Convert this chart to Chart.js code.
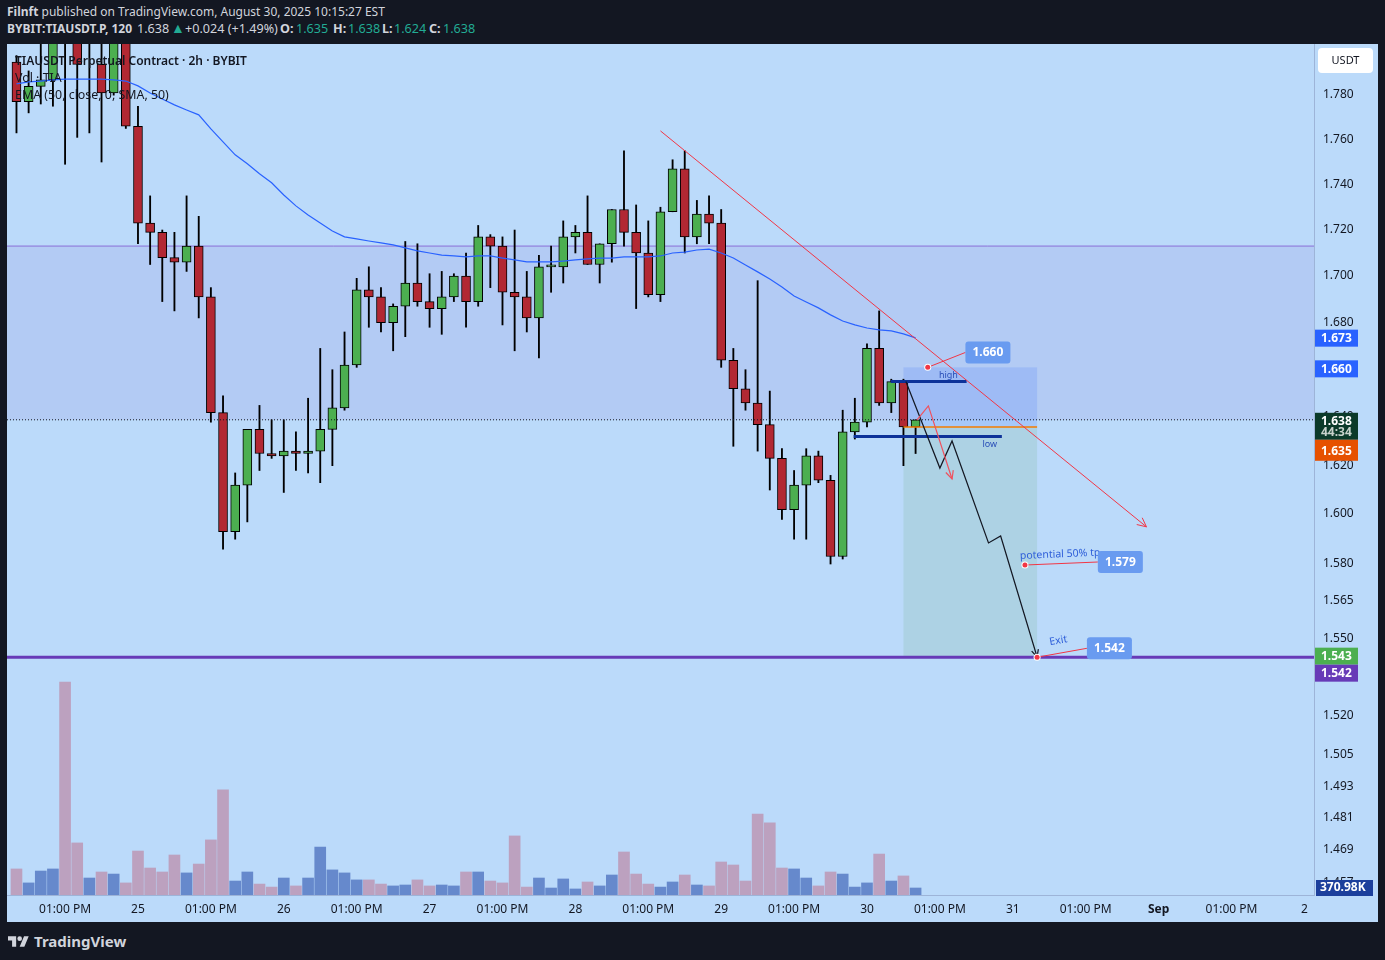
<!DOCTYPE html>
<html>
<head>
<meta charset="utf-8">
<script src="https://cdn.jsdelivr.net/npm/chart.js@4.4.1/dist/chart.umd.min.js"></script>
<style>
  html, body { margin: 0; padding: 0; background: #131722; width: 1385px; height: 960px; overflow: hidden; font-family: "Noto Sans", sans-serif; }
  #h1 { position: absolute; left: 7px; top: 3px; color: #d1d4dc; font-size: 12px; line-height: 18px; white-space: nowrap; }
  #h2 { position: absolute; left: 0; top: 20px; height: 18px; width: 600px; color: #d1d4dc; font-size: 12.6px; line-height: 18px; white-space: nowrap; }
  #h2 span { position: absolute; top: 0; }
  .up { color: #22ab94; }
  #pane { position: absolute; left: 7px; top: 44px; width: 1371px; height: 878px; background: #bbdafa; }
  #pane canvas { position: absolute; left: 0; top: 0; }
  #legend { position: absolute; left: 8px; top: 8px; color: #131722; font-size: 12.4px; line-height: 17px; pointer-events: none; white-space: nowrap; }
  #legend .t { font-weight: 600; font-size: 12px; }
  #footer { position: absolute; left: 8px; top: 931px; color: #d1d4dc; font-size: 15px; font-weight: bold; display: flex; align-items: center; gap: 5px; }
</style>
</head>
<body>
<div id="h1"><b>Filnft</b> published on TradingView.com, August 30, 2025 10:15:27 EST</div>
<div id="h2">
  <span style="left:7px;font-weight:bold;font-size:12px">BYBIT:TIAUSDT.P, 120</span>
  <span style="left:137px">1.638</span>
  <span class="up" style="left:171px;font-size:14px;top:-1px">▲</span>
  <span style="left:185px">+0.024 (+1.49%)</span>
  <span style="left:280px;font-weight:bold">O:</span><span class="up" style="left:296px">1.635</span>
  <span style="left:333px;font-weight:bold">H:</span><span class="up" style="left:348px">1.638</span>
  <span style="left:382px;font-weight:bold">L:</span><span class="up" style="left:394px">1.624</span>
  <span style="left:429px;font-weight:bold">C:</span><span class="up" style="left:443px">1.638</span>
</div>
<div id="pane">
  <canvas id="chart" width="1371" height="878"></canvas>
  <div id="legend">
    <div class="t">TIAUSDT Perpetual Contract · 2h · BYBIT</div>
    <div>Vol · TIA</div>
    <div>EMA (50, close, 0, SMA, 50)</div>
  </div>
</div>
<div id="footer">
  <svg width="21" height="14" viewBox="0 0 36 24"><path d="M14 22H7V11H0V4h14v18zM28 22h-8l7.5-18h8L28 22z" fill="#d1d4dc"/><circle cx="20" cy="8" r="4" fill="#d1d4dc"/></svg>
  <span>TradingView</span>
</div>
<script>
// ——— TIAUSDT.P 2h candles, bar index 0 = Aug 25 01:00 ———
const FIRST_BAR = -10;

const OPENS = [
  1.794, 1.776, 1.783, 1.786, 1.830, 1.825, 1.806, 1.793, 1.780, 1.820,
  1.765, 1.722, 1.718, 1.707, 1.705, 1.712, 1.690, 1.641, 1.592, 1.611,
  1.634, 1.624, 1.623, 1.625, 1.624, 1.625, 1.634, 1.643, 1.661, 1.693,
  1.690, 1.679, 1.686, 1.696, 1.688, 1.685, 1.690, 1.699, 1.688, 1.716,
  1.712, 1.692, 1.690, 1.681, 1.703, 1.703, 1.716, 1.718, 1.704, 1.713,
  1.728, 1.718, 1.709, 1.691, 1.727, 1.746, 1.716, 1.726, 1.722, 1.663,
  1.651, 1.645, 1.636, 1.622, 1.601, 1.611, 1.623, 1.613, 1.582, 1.633,
  1.637, 1.668, 1.645, 1.654, 1.635
];
const HIGHS = [
  1.797, 1.790, 1.815, 1.820, 1.835, 1.830, 1.825, 1.812, 1.818, 1.825,
  1.774, 1.734, 1.719, 1.718, 1.734, 1.725, 1.694, 1.648, 1.616, 1.634,
  1.644, 1.638, 1.638, 1.633, 1.647, 1.668, 1.659, 1.675, 1.698, 1.703,
  1.694, 1.687, 1.714, 1.713, 1.700, 1.701, 1.700, 1.709, 1.721, 1.717,
  1.716, 1.719, 1.701, 1.708, 1.712, 1.723, 1.721, 1.734, 1.713, 1.728,
  1.754, 1.730, 1.723, 1.729, 1.750, 1.754, 1.732, 1.734, 1.728, 1.668,
  1.659, 1.697, 1.650, 1.626, 1.617, 1.626, 1.625, 1.615, 1.642, 1.647,
  1.670, 1.684, 1.655, 1.655, 1.638
];
const LOWS = [
  1.762, 1.771, 1.775, 1.774, 1.748, 1.760, 1.762, 1.749, 1.779, 1.764,
  1.713, 1.704, 1.688, 1.684, 1.701, 1.681, 1.637, 1.585, 1.589, 1.596,
  1.617, 1.622, 1.608, 1.617, 1.616, 1.612, 1.619, 1.642, 1.660, 1.677,
  1.675, 1.667, 1.673, 1.686, 1.677, 1.674, 1.688, 1.677, 1.686, 1.694,
  1.678, 1.667, 1.675, 1.664, 1.692, 1.696, 1.709, 1.704, 1.696, 1.705,
  1.712, 1.685, 1.690, 1.688, 1.727, 1.709, 1.713, 1.713, 1.660, 1.627,
  1.642, 1.625, 1.609, 1.597, 1.589, 1.589, 1.612, 1.579, 1.581, 1.630,
  1.635, 1.644, 1.641, 1.619, 1.624
];
const CLOSES = [
  1.776, 1.783, 1.786, 1.810, 1.808, 1.793, 1.815, 1.780, 1.812, 1.765,
  1.722, 1.718, 1.707, 1.705, 1.712, 1.690, 1.641, 1.592, 1.611, 1.634,
  1.624, 1.623, 1.625, 1.624, 1.625, 1.634, 1.643, 1.661, 1.693, 1.690,
  1.679, 1.686, 1.696, 1.688, 1.685, 1.690, 1.699, 1.688, 1.716, 1.712,
  1.692, 1.690, 1.681, 1.703, 1.703, 1.716, 1.718, 1.704, 1.713, 1.728,
  1.718, 1.709, 1.691, 1.727, 1.746, 1.716, 1.726, 1.722, 1.663, 1.651,
  1.645, 1.636, 1.622, 1.601, 1.611, 1.623, 1.613, 1.582, 1.633, 1.637,
  1.668, 1.645, 1.654, 1.635, 1.638
];
// volume in thousands of TIA
const VOLUMES = [
  1380, 640, 1270, 1380, 11290, 2760, 900, 1220, 1110, 640,
  2330, 1430, 1220, 2120, 1170, 1640, 2920, 5570, 740, 1220,
  580, 420, 900, 480, 900, 2540, 1330, 1170, 800, 800,
  580, 480, 530, 800, 480, 530, 480, 1220, 1220, 740,
  640, 3130, 420, 900, 370, 850, 320, 690, 480, 1060,
  2280, 1110, 580, 420, 690, 1060, 530, 480, 1750, 1590,
  740, 4290, 3820, 1430, 1380, 900, 480, 1220, 1110, 420,
  640, 2170, 740, 1010, 370.98
];
const EMA_50 = [
  1.7841, 1.7850, 1.7854, 1.7859, 1.7863, 1.7863, 1.7863, 1.7863, 1.7859, 1.7854,
  1.7832, 1.7800, 1.7773, 1.7746, 1.7723, 1.7701, 1.7638, 1.7580, 1.7522, 1.7482,
  1.7438, 1.7398, 1.7344, 1.7296, 1.7256, 1.7221, 1.7186, 1.7160, 1.7151, 1.7142,
  1.7134, 1.7125, 1.7112, 1.7099, 1.7090, 1.7081, 1.7077, 1.7073, 1.7077, 1.7077,
  1.7068, 1.7060, 1.7051, 1.7051, 1.7051, 1.7055, 1.7060, 1.7064, 1.7068, 1.7068,
  1.7073, 1.7073, 1.7073, 1.7077, 1.7090, 1.7094, 1.7103, 1.7107, 1.7090, 1.7068,
  1.7038, 1.7008, 1.6977, 1.6943, 1.6904, 1.6878, 1.6853, 1.6823, 1.6797, 1.6780,
  1.6767, 1.6759, 1.6755, 1.6742, 1.6725
];

const X_TICK_POS = [-6, 0, 6, 12, 18, 24, 30, 36, 42, 48, 54, 60, 66, 72, 78, 84, 90, 96];
const X_TICK_LABELS = ["01:00 PM", "25", "01:00 PM", "26", "01:00 PM", "27", "01:00 PM", "28", "01:00 PM",
  "29", "01:00 PM", "30", "01:00 PM", "31", "01:00 PM", "Sep", "01:00 PM", "2"];
const Y_TICKS = [1.457, 1.469, 1.481, 1.493, 1.505, 1.520, 1.550, 1.565, 1.580, 1.600,
  1.620, 1.640, 1.680, 1.700, 1.720, 1.740, 1.760, 1.780];

const X_MIN = -10.78, X_MAX = 96.79;
const PRICE_MIN = 1.4515, PRICE_MAX = 1.8023;
const VOL_MAX = 45100;

// ——— drawings, in (bar index, price) ———
const ZONE = [1.712, 1.638];
const RESIST_LINE = 1.712;
const LAST_PRICE = 1.638;
const EXIT_LINE = 1.542;
const TREND_LINE = [[43, 1.7629], [83, 1.594]];
const SHORT_POS = { from: 63, to: 74, stop: 1.660, entry: 1.635, target: 1.542 };
const HIGH_LINE = [[61.95, 1.654], [68.2, 1.654]];
const LOW_LINE = [[58.9, 1.631], [71.1, 1.631]];
const PATH_BLACK = [[63.2, 1.654], [66, 1.618], [67, 1.6292], [70, 1.5875], [71, 1.5903], [74, 1.5421]];
const PATH_RED = [[64.1, 1.6379], [65.05, 1.6438], [67, 1.6135]];
const CALLOUTS = [
  { at: [65, 1.660], to: [68.1, 1.6663], text: "1.660" },
  { at: [73, 1.5786], to: [79, 1.5798], text: "1.579", note: "potential 50% tp", dx: -5, dy: -6 },
  { at: [74, 1.542], to: [78.1, 1.5455], text: "1.542", note: "Exit", dx: 13, dy: -12 }
];
const AXIS_TAGS = [
  { price: 1.673, text: "1.673", bg: "#2962ff" },
  { price: 1.660, text: "1.660", bg: "#2962ff" },
  { price: 1.638, text: "1.638", sub: "44:34", bg: "#0b3a2a" },
  { price: 1.635, text: "1.635", bg: "#e65100", tall: true },
  { price: 1.543, text: "1.543", bg: "#4caf50" },
  { price: 1.542, text: "1.542", bg: "#673ab7" }
];

const FONT = '"Noto Sans", sans-serif';
const UP = "#4caf50", DOWN = "#b22833";

const bars = OPENS.map((o, i) => FIRST_BAR + i);
const bodies = bars.map((x, i) => ({ x, y: [OPENS[i], CLOSES[i]] }));
const wicks = bars.map((x, i) => ({ x, y: [LOWS[i], HIGHS[i]] }));
const vols = bars.map((x, i) => ({ x, y: VOLUMES[i] }));
const ema = bars.map((x, i) => ({ x, y: EMA_50[i] }));
const isUp = OPENS.map((o, i) => CLOSES[i] >= o);

function px(chart, p) {
  return [chart.scales.x.getPixelForValue(p[0]), chart.scales.y.getPixelForValue(p[1])];
}
function polyline(ctx, pts) {
  ctx.beginPath();
  pts.forEach((p, i) => (i ? ctx.lineTo(p[0], p[1]) : ctx.moveTo(p[0], p[1])));
  ctx.stroke();
}
function arrowHead(ctx, from, to, len) {
  const a = Math.atan2(to[1] - from[1], to[0] - from[0]);
  ctx.beginPath();
  ctx.moveTo(to[0] - len * Math.cos(a - 0.45), to[1] - len * Math.sin(a - 0.45));
  ctx.lineTo(to[0], to[1]);
  ctx.lineTo(to[0] - len * Math.cos(a + 0.45), to[1] - len * Math.sin(a + 0.45));
  ctx.stroke();
}
function hLine(ctx, chart, price) {
  const yy = chart.scales.y.getPixelForValue(price);
  ctx.beginPath();
  ctx.moveTo(chart.chartArea.left, yy);
  ctx.lineTo(chart.chartArea.right, yy);
  ctx.stroke();
}

const drawings = {
  id: "drawings",
  beforeDatasetsDraw(chart) {
    const { ctx, chartArea: a, scales: { x, y } } = chart;
    ctx.save();
    ctx.beginPath(); ctx.rect(a.left, a.top, a.width, a.height); ctx.clip();
    const zt = y.getPixelForValue(ZONE[0]), zb = y.getPixelForValue(ZONE[1]);
    ctx.fillStyle = "#b3cbf4";
    ctx.fillRect(a.left, zt, a.width, zb - zt);
    ctx.strokeStyle = "#8b6fd8"; ctx.lineWidth = 1;
    hLine(ctx, chart, RESIST_LINE);
    // short position tool
    const x0 = x.getPixelForValue(SHORT_POS.from), x1 = x.getPixelForValue(SHORT_POS.to);
    const ys = y.getPixelForValue(SHORT_POS.stop), ye = y.getPixelForValue(SHORT_POS.entry), yt = y.getPixelForValue(SHORT_POS.target);
    ctx.fillStyle = "rgba(41, 98, 255, 0.15)";
    ctx.fillRect(x0, ys, x1 - x0, ye - ys);
    ctx.fillStyle = "#add2e4";
    ctx.fillRect(x0, ye, x1 - x0, yt - ye);
    ctx.restore();
  },
  afterDatasetsDraw(chart) {
    const { ctx, chartArea: a, scales: { x, y } } = chart;
    ctx.save();
    ctx.beginPath(); ctx.rect(a.left, a.top, a.width, a.height); ctx.clip();

    ctx.strokeStyle = "#131722"; ctx.lineWidth = 1; ctx.setLineDash([1, 2]);
    hLine(ctx, chart, LAST_PRICE);
    ctx.setLineDash([]);

    ctx.strokeStyle = "#673ab7"; ctx.lineWidth = 3;
    hLine(ctx, chart, EXIT_LINE);

    // entry line of the short position
    const x0 = x.getPixelForValue(SHORT_POS.from), x1 = x.getPixelForValue(SHORT_POS.to);
    ctx.strokeStyle = "#f57c00"; ctx.lineWidth = 1.5;
    polyline(ctx, [[x0, y.getPixelForValue(SHORT_POS.entry)], [x1, y.getPixelForValue(SHORT_POS.entry)]]);

    // high / low marks
    ctx.strokeStyle = "#0d3299"; ctx.lineWidth = 3;
    polyline(ctx, HIGH_LINE.map(p => px(chart, p)));
    polyline(ctx, LOW_LINE.map(p => px(chart, p)));
    ctx.fillStyle = "#2a4fb8"; ctx.font = "9px " + FONT; ctx.textAlign = "center";
    ctx.textBaseline = "bottom";
    const hp = px(chart, [66.7, HIGH_LINE[0][1]]);
    ctx.fillText("high", hp[0], hp[1] - 2);
    ctx.textBaseline = "top";
    const lp = px(chart, [70.1, LOW_LINE[0][1]]);
    ctx.fillText("low", lp[0], lp[1] + 3);

    // trend line
    ctx.strokeStyle = "#f23645"; ctx.lineWidth = 1;
    const t = TREND_LINE.map(p => px(chart, p));
    polyline(ctx, t);
    arrowHead(ctx, t[0], t[1], 10);

    // projected paths
    ctx.strokeStyle = "#131722"; ctx.lineWidth = 1.2;
    const pb = PATH_BLACK.map(p => px(chart, p));
    polyline(ctx, pb);
    arrowHead(ctx, pb[pb.length - 2], pb[pb.length - 1], 8);
    ctx.strokeStyle = "#f0515e"; ctx.lineWidth = 1.2;
    const pr = PATH_RED.map(p => px(chart, p));
    polyline(ctx, pr);
    arrowHead(ctx, pr[pr.length - 2], pr[pr.length - 1], 9);

    // callouts
    CALLOUTS.forEach(c => {
      const p = px(chart, c.at), q = px(chart, c.to);
      ctx.strokeStyle = "#f23645"; ctx.lineWidth = 1;
      polyline(ctx, [p, q]);
      if (c.note) {
        ctx.save();
        ctx.translate(p[0] + c.dx, p[1] + c.dy);
        ctx.rotate(Math.atan2(q[1] - p[1], q[0] - p[0]));
        ctx.fillStyle = "#2f5fd9"; ctx.font = "10.5px " + FONT;
        ctx.textAlign = "left"; ctx.textBaseline = "alphabetic";
        ctx.fillText(c.note, 0, 0);
        ctx.restore();
      }
      ctx.fillStyle = "#699bf0";
      ctx.beginPath(); ctx.roundRect(q[0], q[1] - 11, 45, 22, 3); ctx.fill();
      ctx.fillStyle = "#ffffff"; ctx.font = "bold 12px " + FONT;
      ctx.textAlign = "center"; ctx.textBaseline = "middle";
      ctx.fillText(c.text, q[0] + 22.5, q[1] + 0.5);
      ctx.fillStyle = "#ffffff";
      ctx.beginPath(); ctx.arc(p[0], p[1], 3.5, 0, Math.PI * 2); ctx.fill();
      ctx.fillStyle = "#f23645";
      ctx.beginPath(); ctx.arc(p[0], p[1], 2.5, 0, Math.PI * 2); ctx.fill();
    });
    ctx.restore();
  },
  afterDraw(chart) {
    const { ctx, chartArea: a, scales: { y, yv } } = chart;
    ctx.save();
    // price tags on the right scale, pushed down when they overlap
    let prevBottom = -Infinity;
    AXIS_TAGS.forEach(tag => {
      const cy = y.getPixelForValue(tag.price);
      const h = tag.sub ? 27 : tag.tall ? 21 : 17;
      const top = Math.max(cy - 7, prevBottom);
      prevBottom = top + h;
      ctx.fillStyle = tag.bg;
      ctx.fillRect(a.right + 1, top, 43, h);
      ctx.fillStyle = "#ffffff"; ctx.font = "bold 12px " + FONT;
      ctx.textAlign = "left"; ctx.textBaseline = "middle";
      ctx.fillText(tag.text, a.right + 7, top + (tag.tall ? 12 : 9));
      if (tag.sub) {
        ctx.fillStyle = "#c8d2cc";
        ctx.fillText(tag.sub, a.right + 7, top + 20);
      }
    });
    const vy = yv.getPixelForValue(VOLUMES[VOLUMES.length - 1]);
    ctx.fillStyle = "#1c3f9c";
    ctx.fillRect(a.right + 2, vy - 8, 57, 16);
    ctx.fillStyle = "#ffffff"; ctx.font = "bold 12px " + FONT;
    ctx.fillText("370.98K", a.right + 6, vy);
    // currency box
    ctx.fillStyle = "#ffffff";
    ctx.beginPath(); ctx.roundRect(a.right + 4, a.top + 4, 55, 25, 4); ctx.fill();
    ctx.fillStyle = "#131722"; ctx.font = "11px " + FONT; ctx.textAlign = "center";
    ctx.fillText("USDT", a.right + 31.5, a.top + 17);
    ctx.restore();
  }
};

new Chart(document.getElementById("chart"), {
  type: "bar",
  data: {
    datasets: [
      { type: "line", label: "EMA 50", data: ema, yAxisID: "y", borderColor: "#2962ff", borderWidth: 1.2,
        pointRadius: 0, tension: 0, order: 0 },
      { label: "Bodies", data: bodies, yAxisID: "y", backgroundColor: isUp.map(u => (u ? UP : DOWN)),
        borderColor: "#000000", borderWidth: 1, borderSkipped: false, barThickness: 9, minBarLength: 2,
        grouped: false, order: 1 },
      { label: "Wicks", data: wicks, yAxisID: "y", backgroundColor: "#000000", barThickness: 1.2,
        grouped: false, order: 2 },
      { label: "Volume", data: vols, yAxisID: "yv", backgroundColor: isUp.map(u => (u ? "#6689cc" : "#bca1bf")),
        barThickness: 11, grouped: false, order: 3 }
    ]
  },
  options: {
    responsive: false,
    animation: false,
    layout: { padding: 0 },
    plugins: { legend: { display: false }, tooltip: { enabled: false } },
    scales: {
      x: {
        type: "linear", min: X_MIN, max: X_MAX, bounds: "data", offset: false,
        grid: { display: false, drawTicks: false },
        border: { display: true, color: "#9db4d8" },
        afterBuildTicks: s => { s.ticks = X_TICK_POS.map(v => ({ value: v })); },
        afterFit: s => { s.height = 27; s.paddingLeft = 0; s.paddingRight = 0; },
        ticks: {
          autoSkip: false, maxRotation: 0, padding: 7, color: "#131722",
          font: c => ({ family: FONT, size: 12, weight: X_TICK_LABELS[c.index] === "Sep" ? "bold" : "normal" }),
          callback: (v, i) => X_TICK_LABELS[i]
        }
      },
      y: {
        type: "logarithmic", position: "right", min: PRICE_MIN, max: PRICE_MAX, bounds: "data",
        grid: { display: false, drawTicks: false },
        border: { display: true, color: "#9db4d8" },
        afterBuildTicks: s => { s.ticks = Y_TICKS.map(v => ({ value: v })); },
        afterFit: s => { s.width = 64; s.paddingTop = 0; s.paddingBottom = 0; },
        // empty first line nudges each label 2px down, as TradingView draws them
        ticks: { autoSkip: false, padding: 9, color: "#131722", font: { family: FONT, size: 12, lineHeight: "4px" },
          callback: v => ["", Number(v).toFixed(3)] }
      },
      yv: { type: "linear", display: false, min: 0, max: VOL_MAX }
    }
  },
  plugins: [drawings]
});
</script>
</body>
</html>
